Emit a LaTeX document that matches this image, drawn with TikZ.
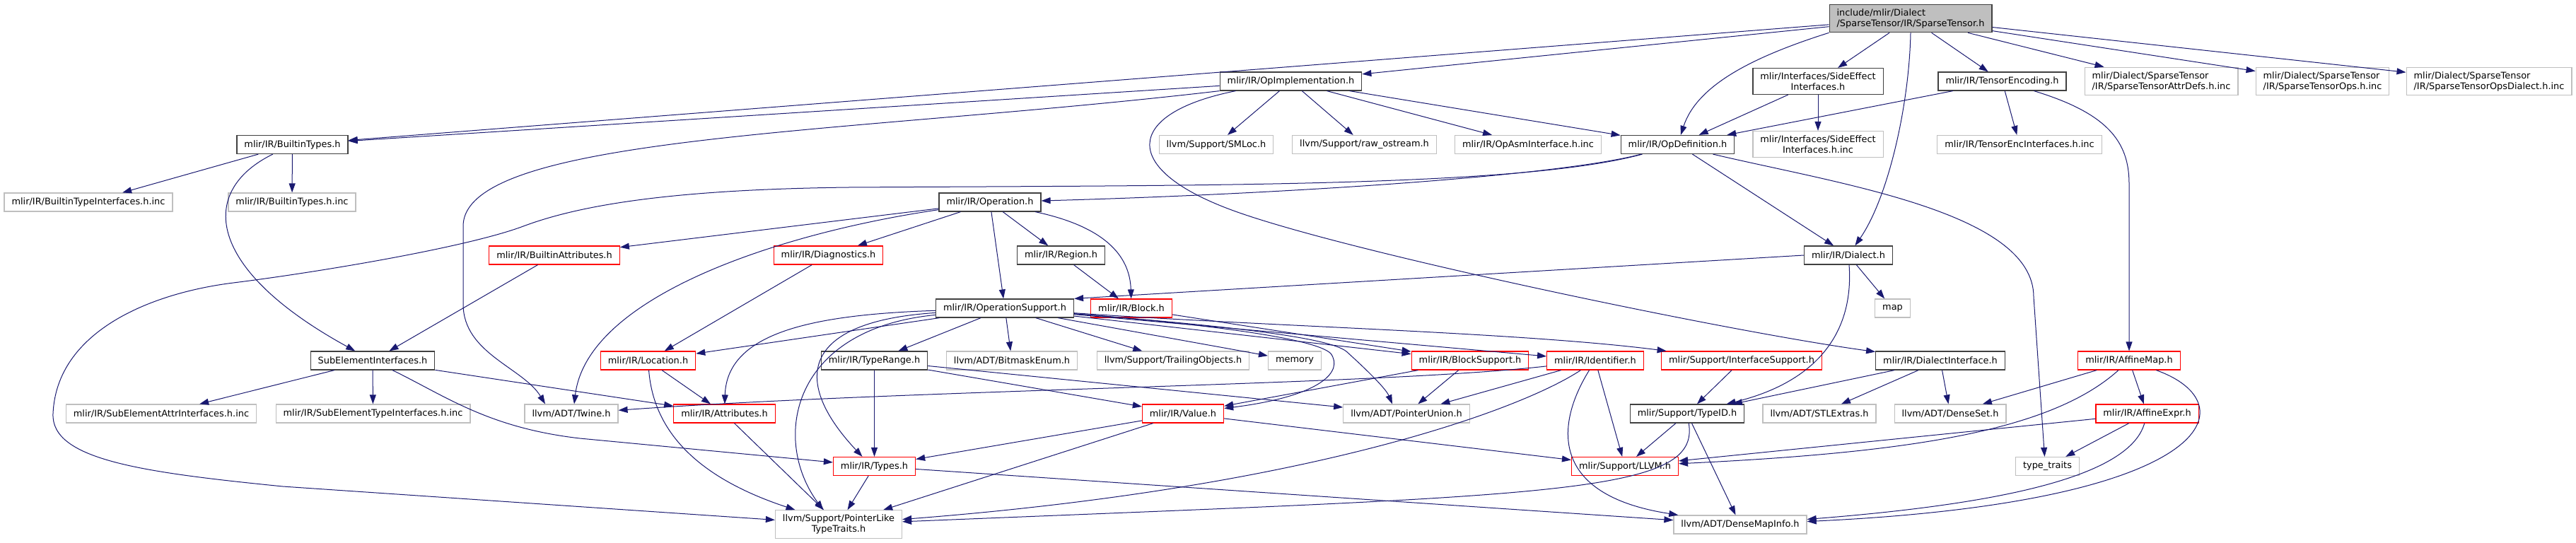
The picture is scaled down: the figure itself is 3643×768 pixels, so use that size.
\documentclass[tikz,border=0pt]{standalone}
\usepackage{fontspec}
\usepackage{tikz}
\usetikzlibrary{arrows.meta, positioning}
\newfontfamily\dotsans{DejaVu Sans}
\newcommand{\graphfont}{\dotsans\fontsize{12.9}{15}\selectfont}
\definecolor{edgeblue}{HTML}{191970}
\definecolor{gray75}{HTML}{BFBFBF}
\definecolor{linkgray}{HTML}{404040}

\begin{document}
\begin{tikzpicture}[
    x=1pt, y=-1pt,
    hfile/.style={rectangle, draw=#1, fill=white, line width=1.2pt, font=\graphfont,
                  inner xsep=10.5pt, inner ysep=6pt, minimum height=26pt},
    linked/.style={hfile=linkgray},
    extfile/.style={hfile=gray75},
    cutfile/.style={hfile=red},
    rootfile/.style={hfile=linkgray, fill=gray75, align=left},
    incl/.style={draw=edgeblue, line width=1pt, -{Triangle[length=13pt, width=9pt]}}
]
\useasboundingbox (0,0) rectangle (3643,768);

% Row 0: the documented header
\node[rootfile] (sparse) at (2702,26) {include/mlir/Dialect\\/SparseTensor/IR/SparseTensor.h};

% Row 1
\node[linked] (opimpl) at (1825.5,115) {mlir/IR/OpImplementation.h};
\node[linked, align=center] (sideeff) at (2571,115) {mlir/Interfaces/SideEffect\\Interfaces.h};
\node[linked] (tenenc) at (2831.5,115) {mlir/IR/TensorEncoding.h};
\node[extfile, align=left] (attrdefs) at (3056.5,115) {mlir/Dialect/SparseTensor\\/IR/SparseTensorAttrDefs.h.inc};
\node[extfile, align=left] (opsinc) at (3284.5,115) {mlir/Dialect/SparseTensor\\/IR/SparseTensorOps.h.inc};
\node[extfile, align=left] (dialinc) at (3520,115) {mlir/Dialect/SparseTensor\\/IR/SparseTensorOpsDialect.h.inc};

% Row 2
\node[linked] (builtintypes) at (413.5,204.5) {mlir/IR/BuiltinTypes.h};
\node[extfile] (smloc) at (1720,204.5) {llvm/Support/SMLoc.h};
\node[extfile] (rawos) at (1929.5,204.5) {llvm/Support/raw\_ostream.h};
\node[extfile] (opasm) at (2161,204.5) {mlir/IR/OpAsmInterface.h.inc};
\node[linked] (opdef) at (2372.5,204.5) {mlir/IR/OpDefinition.h};
\node[extfile, align=center] (sideeffinc) at (2571,204) {mlir/Interfaces/SideEffect\\Interfaces.h.inc};
\node[extfile] (tenencinc) at (2856,204.5) {mlir/IR/TensorEncInterfaces.h.inc};

% Row 3
\node[extfile] (btiinc) at (125,286) {mlir/IR/BuiltinTypeInterfaces.h.inc};
\node[extfile] (btinc) at (413,286) {mlir/IR/BuiltinTypes.h.inc};
\node[linked] (operation) at (1400,286) {mlir/IR/Operation.h};

% Row 4
\node[cutfile] (battrs) at (784,361) {mlir/IR/BuiltinAttributes.h};
\node[cutfile] (diag) at (1171.5,361) {mlir/IR/Diagnostics.h};
\node[linked] (region) at (1500.5,361) {mlir/IR/Region.h};
\node[linked] (dialect) at (2614,361) {mlir/IR/Dialect.h};

% Row 5
\node[linked] (opsupport) at (1421,436) {mlir/IR/OperationSupport.h};
\node[cutfile] (block) at (1600,436) {mlir/IR/Block.h};
\node[extfile] (map) at (2676.5,436) {map};

% Row 6
\node[linked] (subelem) at (527,510) {SubElementInterfaces.h};
\node[cutfile] (location) at (916.5,510) {mlir/IR/Location.h};
\node[linked] (typerange) at (1236.5,510) {mlir/IR/TypeRange.h};
\node[extfile] (bitmask) at (1431,510) {llvm/ADT/BitmaskEnum.h};
\node[extfile] (trailing) at (1659,510) {llvm/Support/TrailingObjects.h};
\node[extfile] (memory) at (1831,510) {memory};
\node[cutfile] (blocksupport) at (2079,510) {mlir/IR/BlockSupport.h};
\node[cutfile] (identifier) at (2256,510) {mlir/IR/Identifier.h};
\node[cutfile] (intsupport) at (2463,510) {mlir/Support/InterfaceSupport.h};
\node[linked] (dialiface) at (2744,510) {mlir/IR/DialectInterface.h};
\node[cutfile] (affinemap) at (3011,510) {mlir/IR/AffineMap.h};

% Row 7
\node[extfile] (seattr) at (228,585) {mlir/IR/SubElementAttrInterfaces.h.inc};
\node[extfile] (setype) at (527.5,585) {mlir/IR/SubElementTypeInterfaces.h.inc};
\node[extfile] (twine) at (808,585) {llvm/ADT/Twine.h};
\node[cutfile] (attributes) at (1024.5,585) {mlir/IR/Attributes.h};
\node[cutfile] (value) at (1673,585) {mlir/IR/Value.h};
\node[extfile] (ptrunion) at (1989,585) {llvm/ADT/PointerUnion.h};
\node[linked] (typeid) at (2386,585) {mlir/Support/TypeID.h};
\node[extfile] (stlextras) at (2573,585) {llvm/ADT/STLExtras.h};
\node[extfile] (denseset) at (2758,585) {llvm/ADT/DenseSet.h};
\node[cutfile] (affineexpr) at (3036.5,585) {mlir/IR/AffineExpr.h};

% Row 8
\node[cutfile] (types) at (1236.5,659.5) {mlir/IR/Types.h};
\node[cutfile] (llvmh) at (2298,659.5) {mlir/Support/LLVM.h};
\node[extfile] (typetraits) at (2895.5,659.5) {type\_traits};

% Row 9
\node[extfile, align=center] (ptrlike) at (1186,741.5) {llvm/Support/PointerLike\\TypeTraits.h};
\node[extfile] (densemapinfo) at (2461,742) {llvm/ADT/DenseMapInfo.h};

% Includes of the root header
\draw[incl] (sparse) -- (builtintypes);
\draw[incl] (sparse) -- (opimpl);
\draw[incl] (sparse.south west) .. controls (2480,80) and (2400,120) .. (opdef);
\draw[incl] (sparse) -- (sideeff);
\draw[incl] (sparse.south) .. controls (2700,150) and (2670,280) .. (dialect);
\draw[incl] (sparse) -- (tenenc);
\draw[incl] (sparse) -- (attrdefs);
\draw[incl] (sparse) -- (opsinc);
\draw[incl] (sparse) -- (dialinc);

% OpImplementation
\draw[incl] (opimpl) -- (builtintypes);
\draw[incl] (opimpl.south west) .. controls (1200,190) and (655,190) .. (655,320) -- (655,430)
    .. controls (655,500) and (740,520) .. ([xshift=-37pt]twine.north);
\draw[incl] ([xshift=-78pt]opimpl.south) .. controls (1590,160) and (1580,240) .. (1750,300)
    .. controls (1920,360) and (2450,470) .. (dialiface);
\draw[incl] (opimpl) -- (smloc);
\draw[incl] (opimpl) -- (rawos);
\draw[incl] (opimpl) -- (opasm);
\draw[incl] (opimpl) -- (opdef);

% SideEffect and TensorEncoding
\draw[incl] (sideeff) -- (opdef);
\draw[incl] (sideeff) -- (sideeffinc);
\draw[incl] (tenenc) -- (opdef);
\draw[incl] (tenenc) -- (tenencinc);
\draw[incl] (tenenc) .. controls (2980,160) and (3011,200) .. (3011,260) -- (affinemap);

% BuiltinTypes
\draw[incl] (builtintypes) -- (btiinc);
\draw[incl] (builtintypes) -- (btinc);
\draw[incl] (builtintypes) .. controls (280,270) and (290,380) .. (subelem);

% OpDefinition
\draw[incl] (opdef) .. controls (2200,250) and (1800,275) .. (operation);
\draw[incl] (opdef) .. controls (2150,265) and (1700,262) .. (1200,265)
    .. controls (950,268) and (820,290) .. (740,320)
    .. controls (660,350) and (450,385) .. (330,400)
    .. controls (210,415) and (80,470) .. (75,585)
    .. controls (72,650) and (200,668) .. (400,688) -- (ptrlike);
\draw[incl] (opdef) -- (dialect);
\draw[incl] ([xshift=50pt]opdef.south) .. controls (2600,260) and (2876,300) .. (2876,420)
    -- ([xshift=-4pt]typetraits.north);

% Operation
\draw[incl] (operation) -- (battrs);
\draw[incl] (operation) -- (diag);
\draw[incl] (operation) .. controls (1100,330) and (830,420) .. ([xshift=4pt]twine.north);
\draw[incl] (operation) -- (region);
\draw[incl] (operation) -- (opsupport);
\draw[incl] (operation) .. controls (1560,320) and (1598,360) .. (block);
\draw[incl] (region) -- (block);
\draw[incl] (battrs) -- (subelem);
\draw[incl] (diag) -- (location);

% Dialect
\draw[incl] (dialect.west) -- (opsupport.north east);
\draw[incl] (dialect) -- (map);
\draw[incl] (dialect) .. controls (2622,470) and (2570,540) .. (typeid);

% OperationSupport
\draw[incl] (opsupport) -- (typerange);
\draw[incl] (opsupport) -- (bitmask);
\draw[incl] (opsupport) -- (trailing);
\draw[incl] (opsupport) -- (memory);
\draw[incl] (opsupport) -- (blocksupport);
\draw[incl] (opsupport) -- (identifier);
\draw[incl] (opsupport) .. controls (1800,462) and (2150,470) .. (intsupport);
\draw[incl] (opsupport) .. controls (1750,462) and (1880,478) .. (1904,497)
    .. controls (1935,525) and (1960,550) .. ([xshift=-20pt]ptrunion.north);
\draw[incl] (opsupport) .. controls (1700,458) and (1860,478) .. (1882,500)
    .. controls (1900,525) and (1870,560) .. (value);
\draw[incl] (opsupport) -- (location);
\draw[incl] (opsupport) .. controls (1150,445) and (1028,470) .. (attributes);
\draw[incl] (opsupport) .. controls (1130,455) and (1120,540) .. ([xshift=-17pt]types.north);
\draw[incl] (opsupport) .. controls (1120,465) and (1090,620) .. ([xshift=-22pt]ptrlike.north);

% Block, BlockSupport, Identifier, InterfaceSupport
\draw[incl] (block) -- (blocksupport);
\draw[incl] (blocksupport) -- (value);
\draw[incl] (blocksupport) -- (ptrunion);
\draw[incl] (identifier) .. controls (1950,545) and (1300,550) .. (twine);
\draw[incl] (identifier) -- (ptrunion);
\draw[incl] (identifier) .. controls (2150,580) and (1850,690) .. (ptrlike);
\draw[incl] (identifier) -- (llvmh);
\draw[incl] (identifier) .. controls (2200,600) and (2190,700) .. (densemapinfo);
\draw[incl] (intsupport) -- (typeid);

% TypeRange, Value, Types
\draw[incl] (typerange) -- (types);
\draw[incl] (typerange) -- (value);
\draw[incl] (typerange) -- (ptrunion);
\draw[incl] (value) -- (types);
\draw[incl] (value) -- (ptrlike);
\draw[incl] (value) -- (llvmh);
\draw[incl] (types) -- (ptrlike);
\draw[incl] (types) -- (densemapinfo);

% TypeID
\draw[incl] (typeid) -- (llvmh);
\draw[incl] (typeid) .. controls (2405,700) and (2200,700) .. (ptrlike);
\draw[incl] (typeid) -- (densemapinfo);

% Location, Attributes, SubElementInterfaces
\draw[incl] (location) -- (attributes);
\draw[incl] (location) .. controls (925,620) and (1000,680) .. (ptrlike);
\draw[incl] (attributes) -- (ptrlike);
\draw[incl] (subelem) -- (seattr);
\draw[incl] (subelem) -- (setype);
\draw[incl] (subelem) -- (attributes);
\draw[incl] (subelem) .. controls (630,560) and (690,605) .. (820,620) -- (types);

% DialectInterface, AffineMap, AffineExpr
\draw[incl] (dialiface) -- (typeid);
\draw[incl] (dialiface) -- (stlextras);
\draw[incl] (dialiface) -- (denseset);
\draw[incl] (affinemap) -- (denseset);
\draw[incl] (affinemap) .. controls (2900,610) and (2700,640) .. (llvmh);
\draw[incl] (affinemap) -- (affineexpr);
\draw[incl] (affinemap) .. controls (3180,570) and (3140,710) .. (densemapinfo);
\draw[incl] (affineexpr) -- (llvmh);
\draw[incl] (affineexpr) -- (typetraits);
\draw[incl] (affineexpr) .. controls (3010,680) and (2800,715) .. (densemapinfo);

\end{tikzpicture}
\end{document}
